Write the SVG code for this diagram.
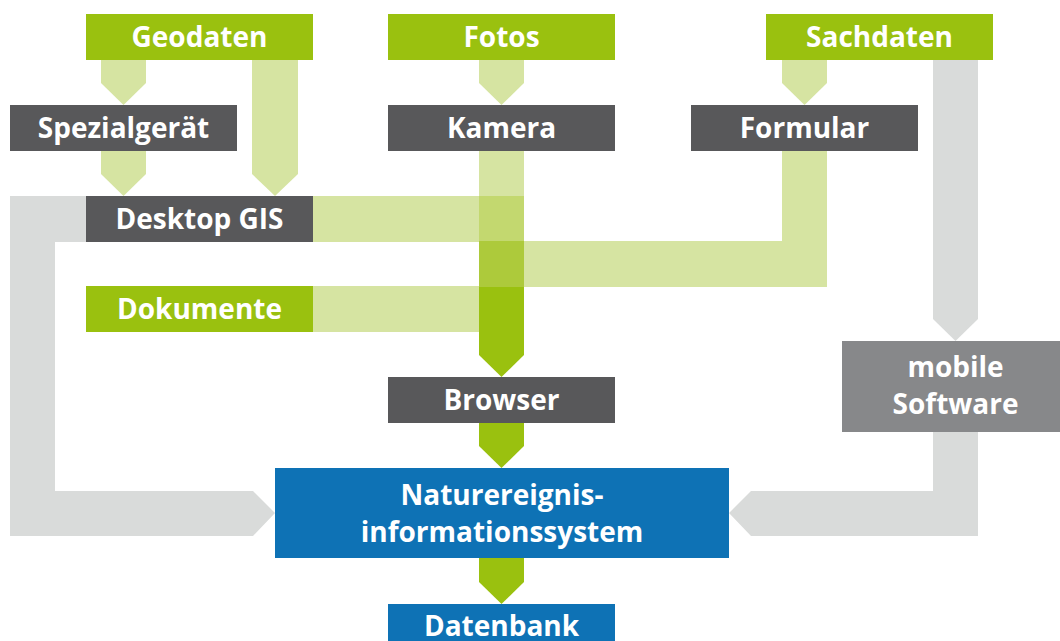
<svg xmlns="http://www.w3.org/2000/svg" width="1060" height="641" viewBox="0 0 1060 641">
  <style>
    .lbl { font-family: "Open Sans", "Liberation Sans", sans-serif; font-weight: 700; font-size: 28px; fill: #ffffff; text-anchor: middle; }
    .src { fill: #9ac10f; }
    .dev { fill: #58585a; }
    .mob { fill: #87888a; }
    .sys { fill: #0e72b5; }
    .lg  { fill: #d6e4a2; }
    .gr  { fill: #d9dbda; }
    .fg  { fill: #9ac10f; }
  </style>
  <rect width="1060" height="641" fill="#ffffff"/>

  <!-- flow arrows -->
  <g id="connectors">
    <!-- Geodaten -> Spezialgerät -->
    <polygon class="lg" points="101,60 146,60 146,83 123.5,105 101,83"/>
    <!-- Geodaten -> Desktop GIS -->
    <polygon class="lg" points="252,60 298,60 298,174 275,196 252,174"/>
    <!-- Spezialgerät -> Desktop GIS -->
    <polygon class="lg" points="101,151 146,151 146,174 123.5,196 101,174"/>
    <!-- Fotos -> Kamera -->
    <polygon class="lg" points="479,60 524,60 524,83 501.5,105 479,83"/>
    <!-- Sachdaten -> Formular -->
    <polygon class="lg" points="782,60 827,60 827,83 804.5,105 782,83"/>
    <!-- Sachdaten -> mobile Software -->
    <polygon class="gr" points="933,60 978,60 978,319 955.5,341 933,319"/>
    <!-- Desktop GIS -> Naturereignisinformationssystem -->
    <polygon class="gr" points="10,196 86,196 86,242 55,242 55,491 253,491 275,513 253,536 10,536"/>
    <!-- mobile Software -> Naturereignisinformationssystem -->
    <polygon class="gr" points="933,432 978,432 978,536 751,536 729,513 751,491 933,491"/>
    <!-- Desktop GIS band towards the browser -->
    <rect class="lg" x="313" y="196" width="166" height="46"/>
    <!-- Formular L towards the browser -->
    <polygon class="lg" points="782,151 827,151 827,287 524,287 524,241 782,241"/>
    <!-- Dokumente band towards the browser -->
    <rect class="lg" x="313" y="286" width="166" height="46"/>
    <!-- Kamera column, darkening as inputs merge -->
    <rect class="lg" x="479" y="151" width="45" height="45"/>
    <rect fill="#c3d86f" x="479" y="196" width="45" height="45"/>
    <rect fill="#adca3b" x="479" y="241" width="45" height="46"/>
    <polygon class="fg" points="479,287 524,287 524,355 501.5,377 479,355"/>
    <!-- Browser -> Naturereignisinformationssystem -->
    <polygon class="fg" points="479,423 524,423 524,446 501.5,468 479,446"/>
    <!-- Naturereignisinformationssystem -> Datenbank -->
    <polygon class="fg" points="479,558 524,558 524,582 501.5,604 479,582"/>
  </g>

  <g id="geodaten">
    <rect class="src" x="86" y="14" width="227" height="46"/>
    <text class="lbl" x="199.5" y="47">Geodaten</text>
  </g>
  <g id="fotos">
    <rect class="src" x="388" y="14" width="227" height="46"/>
    <text class="lbl" x="501.5" y="47">Fotos</text>
  </g>
  <g id="sachdaten">
    <rect class="src" x="766" y="14" width="227" height="46"/>
    <text class="lbl" x="879.5" y="47">Sachdaten</text>
  </g>
  <g id="spezialgeraet">
    <rect class="dev" x="10" y="105" width="227" height="46"/>
    <text class="lbl" x="123.5" y="138">Spezialgerät</text>
  </g>
  <g id="kamera">
    <rect class="dev" x="388" y="105" width="227" height="46"/>
    <text class="lbl" x="501.5" y="138">Kamera</text>
  </g>
  <g id="formular">
    <rect class="dev" x="691" y="105" width="227" height="46"/>
    <text class="lbl" x="804.5" y="138">Formular</text>
  </g>
  <g id="desktop-gis">
    <rect class="dev" x="86" y="196" width="227" height="46"/>
    <text class="lbl" x="199.5" y="229">Desktop GIS</text>
  </g>
  <g id="dokumente">
    <rect class="src" x="86" y="286" width="227" height="46"/>
    <text class="lbl" x="199.5" y="319">Dokumente</text>
  </g>
  <g id="browser">
    <rect class="dev" x="388" y="377" width="227" height="46"/>
    <text class="lbl" x="501.5" y="410">Browser</text>
  </g>
  <g id="mobile-software">
    <rect class="mob" x="842" y="341" width="218" height="91"/>
    <text class="lbl" x="955.5" y="377">mobile</text>
    <text class="lbl" x="955.5" y="414">Software</text>
  </g>
  <g id="nis">
    <rect class="sys" x="275" y="468" width="454" height="90"/>
    <text class="lbl" x="502" y="505">Naturereignis-</text>
    <text class="lbl" x="502" y="542">informationssystem</text>
  </g>
  <g id="datenbank">
    <rect class="sys" x="388" y="604" width="227" height="46"/>
    <text class="lbl" x="501.5" y="636">Datenbank</text>
  </g>
</svg>
